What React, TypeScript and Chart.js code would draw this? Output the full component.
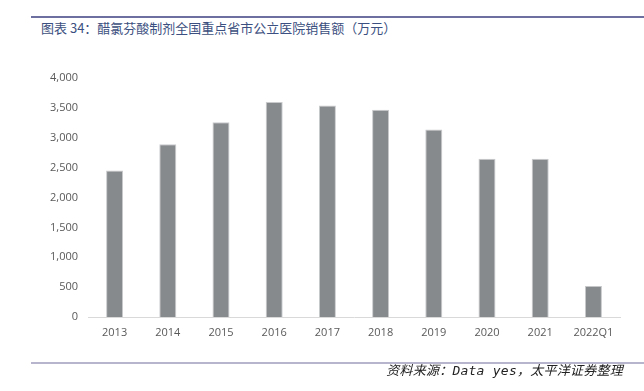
import React, { useEffect, useRef } from "react";
import { Chart, registerables } from "chart.js";

Chart.register(...registerables);

const categories: string[] = ["2013", "2014", "2015", "2016", "2017", "2018", "2019", "2020", "2021", "2022Q1"];
const salesValues: number[] = [2450, 2890, 3260, 3600, 3540, 3470, 3140, 2650, 2650, 520];
const yTickValues: number[] = [0, 500, 1000, 1500, 2000, 2500, 3000, 3500, 4000];

const titleText = "图表 34：醋氯芬酸制剂全国重点省市公立医院销售额（万元）";
const sourceText = "资料来源：Data yes，太平洋证券整理";

export default function App() {
  const canvasRef = useRef<HTMLCanvasElement | null>(null);

  useEffect(() => {
    const canvas = canvasRef.current;
    if (!canvas) return;
    const chart = new Chart(canvas, {
      type: "bar",
      data: {
        labels: categories,
        datasets: [
          {
            data: salesValues,
            backgroundColor: "#878a8d",
            borderColor: "#c9cbcd",
            borderWidth: { top: 1, left: 1, right: 1, bottom: 0 },
            barPercentage: 0.64,
            categoryPercentage: 0.5,
          },
        ],
      },
      options: {
        animation: false,
        responsive: false,
        maintainAspectRatio: false,
        devicePixelRatio: 1,
        layout: { padding: { left: 0, right: 24, top: 78, bottom: 34 } },
        plugins: {
          legend: { display: false },
          tooltip: { enabled: false },
          title: { display: false },
        },
        scales: {
          x: {
            grid: { display: false, drawTicks: false },
            border: { display: true, color: "#d9d9d9", width: 1 },
            ticks: {
              color: "#595959",
              padding: 9,
              maxRotation: 0,
              autoSkip: false,
              font: { family: "'Open Sans', sans-serif", size: 11 },
            },
            afterFit: (axis: any) => {
              axis.height = 40;
            },
          },
          y: {
            min: 0,
            max: 4000,
            afterBuildTicks: (axis: any) => {
              axis.ticks = yTickValues.map((v) => ({ value: v }));
            },
            grid: { display: false, drawTicks: false },
            border: { display: false },
            ticks: {
              color: "#595959",
              padding: 10,
              font: { family: "'Open Sans', sans-serif", size: 11 },
              callback: (v: any) => Number(v).toLocaleString("en-US"),
            },
            afterFit: (axis: any) => {
              axis.width = 88;
            },
          },
        },
      },
    });
    return () => chart.destroy();
  }, []);

  return (
    <div style={{ position: "absolute", left: 0, top: 0, width: 644, height: 391, background: "#fff", overflow: "hidden" }}>
      <div style={{ position: "absolute", left: 31, top: 16, width: 613, height: 2, background: "#6c6f9f" }} />
      <div
        style={{
          position: "absolute",
          left: 41,
          top: 19,
          fontFamily: "'Noto Sans CJK SC', sans-serif",
          fontSize: 13,
          lineHeight: "18px",
          color: "#3b4f80",
          whiteSpace: "nowrap",
        }}
      >
        {titleText}
      </div>
      <canvas ref={canvasRef} width={644} height={391} style={{ position: "absolute", left: 0, top: 0, width: 644, height: 391 }} />
      <div style={{ position: "absolute", left: 31, top: 362, width: 613, height: 2, background: "#b6b5cd" }} />
      <div
        style={{
          position: "absolute",
          right: 21,
          top: 362,
          fontFamily: "'DejaVu Sans Mono', 'Noto Sans CJK SC', monospace",
          fontStyle: "italic",
          fontSize: 13,
          letterSpacing: 0.25,
          lineHeight: "18px",
          color: "#222",
          whiteSpace: "nowrap",
        }}
      >
        {sourceText}
      </div>
    </div>
  );
}
